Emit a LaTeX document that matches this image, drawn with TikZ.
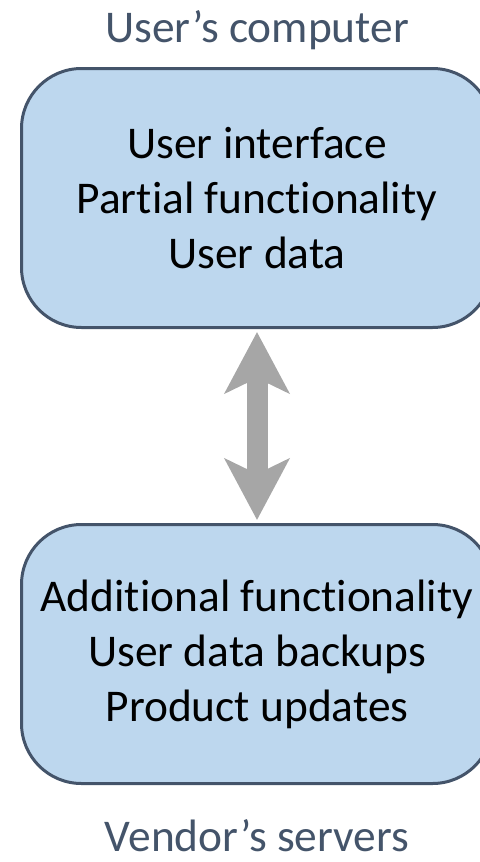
\documentclass[tikz,border=0pt]{standalone}
\usepackage{fontspec}
\setmainfont{Carlito}[Ligatures=NoCommon]
\usetikzlibrary{arrows.meta}
\usetikzlibrary{positioning}
\definecolor{boxfill}{HTML}{BDD7EE}
\definecolor{boxline}{HTML}{44546A}
\definecolor{arrowgray}{HTML}{A6A6A6}
\begin{document}
\begin{tikzpicture}[x=0.5pt,y=-0.5pt,
    main box/.style={rectangle,rounded corners=30pt,draw=boxline,fill=boxfill,line width=1.5pt,
      minimum width=235.5pt,minimum height=129.5pt,align=center,inner sep=0pt,
      font=\fontsize{22.7pt}{27.5pt}\selectfont},
    title node/.style={anchor=base,text=boxline,inner sep=0pt,font=\fontsize{22.7pt}{27pt}\selectfont}]
    \useasboundingbox (0,0) rectangle (480,862);
    \clip (0,0) rectangle (480,862);
    \begin{scope}
     \node[title node] (t) at (257,42) {User’s computer};
     \node[main box] (c) at (257,198) {User interface\\Partial functionality\\User data};
     \node[main box] (s) at (257,654) {Additional functionality\\User data backups\\Product updates};
     \node[title node] (v) at (257,851) {Vendor’s servers};
      \path[line width=10.5pt,color=arrowgray,
        {Stealth[length=30.5pt,width=32pt,inset=7.5pt]}-{Stealth[length=30.5pt,width=32pt,inset=7.5pt]}]
        ([yshift=-1.5pt]c.south) edge ([yshift=1.5pt]s.north);
    \end{scope}
  \end{tikzpicture}
\end{document}
